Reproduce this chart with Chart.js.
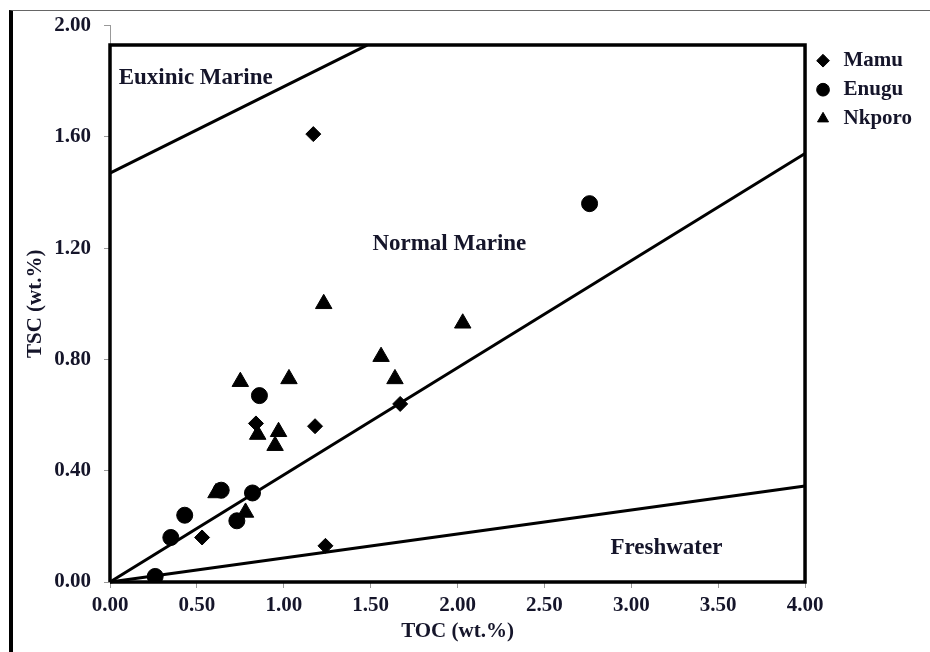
<!DOCTYPE html>
<html>
<head>
<meta charset="utf-8">
<script src="https://cdn.jsdelivr.net/npm/chart.js@4.4.1/dist/chart.umd.min.js"></script>
<style>
html, body { margin: 0; padding: 0; background: #fff; }
#wrap { position: relative; width: 930px; height: 652px; overflow: hidden; }
#wrap canvas { position: absolute; left: 0; top: 0; }
#frame { position: absolute; left: 9px; top: 10px; right: 0; bottom: 0; border-left: 4px solid #000; border-top: 1px solid #666; pointer-events: none; }
</style>
</head>
<body>
<div id="wrap">
  <canvas id="myChart" width="930" height="652"></canvas>
  <div id="frame"></div>
</div>
<script>
// sample points (TOC, TSC in wt.%)
const mamuTOC = [1.17, 0.84, 1.18, 0.53, 1.24, 1.67];
const mamuTSC = [1.61, 0.57, 0.56, 0.16, 0.13, 0.64];
const enuguTOC = [0.86, 0.64, 0.82, 0.43, 0.73, 0.35, 0.26, 2.76];
const enuguTSC = [0.67, 0.33, 0.32, 0.24, 0.22, 0.16, 0.02, 1.36];
const nkporoTOC = [0.75, 1.03, 0.85, 0.97, 0.95, 0.61, 0.78, 1.23, 2.03, 1.56, 1.64];
const nkporoTSC = [0.72, 0.73, 0.53, 0.54, 0.49, 0.32, 0.25, 1.00, 0.93, 0.81, 0.73];

// boundary lines
const euxinicTOC = [0, 1.48];
const euxinicTSC = [1.47, 1.93];
const normalTOC = [0, 4];
const normalTSC = [0, 1.54];
const freshTOC = [0, 4];
const freshTSC = [0, 0.345];

// plot frame
const boxTOC = [0, 0, 4, 4, 0];
const boxTSC = [0, 1.93, 1.93, 0, 0];

// field names
const regionNames = ['Euxinic Marine', 'Normal Marine', 'Freshwater'];
const regionTOC = [0.05, 1.51, 2.88];
const regionTSC = [1.81, 1.214, 0.122];

const textColor = '#15152a';

function pts(xs, ys) {
  return xs.map((v, i) => ({x: v, y: ys[i]}));
}

const regionLabels = {
  id: 'regionLabels',
  afterDatasetsDraw(chart) {
    const {ctx, scales: {x, y}} = chart;
    ctx.save();
    ctx.font = 'bold 23px "Liberation Serif"';
    ctx.fillStyle = textColor;
    ctx.textBaseline = 'middle';
    ctx.textAlign = 'left';
    regionNames.forEach((name, i) => {
      ctx.fillText(name, x.getPixelForValue(regionTOC[i]), y.getPixelForValue(regionTSC[i]));
    });
    ctx.restore();
  }
};

Chart.defaults.font.family = '"Liberation Serif", "Times New Roman", serif';
Chart.defaults.font.weight = 'bold';
Chart.defaults.color = textColor;

function lineSet(xs, ys, w) {
  return {
    data: pts(xs, ys),
    showLine: true,
    borderColor: '#000',
    borderWidth: w,
    pointRadius: 0,
    pointHoverRadius: 0,
    fill: false,
    tension: 0,
    clip: false
  };
}

const ctx = document.getElementById('myChart');
let myChart = new Chart(ctx, {
  type: 'scatter',
  data: {
    datasets: [
      {
        label: 'Mamu',
        data: pts(mamuTOC, mamuTSC),
        pointStyle: 'rectRot',
        pointRadius: 7.5,
        backgroundColor: '#000',
        borderColor: '#000',
        borderWidth: 1
      },
      {
        label: 'Enugu',
        data: pts(enuguTOC, enuguTSC),
        pointStyle: 'circle',
        pointRadius: 8,
        backgroundColor: '#000',
        borderColor: '#000',
        borderWidth: 1
      },
      {
        label: 'Nkporo',
        data: pts(nkporoTOC, nkporoTSC),
        pointStyle: 'triangle',
        pointRadius: 9.5,
        backgroundColor: '#000',
        borderColor: '#000',
        borderWidth: 1
      },
      lineSet(euxinicTOC, euxinicTSC, 3),
      lineSet(normalTOC, normalTSC, 3),
      lineSet(freshTOC, freshTSC, 3),
      lineSet(boxTOC, boxTSC, 3.5)
    ]
  },
  options: {
    responsive: false,
    animation: false,
    events: [],
    layout: {
      padding: {left: 2, top: 25, right: 8, bottom: 0}
    },
    plugins: {
      tooltip: {enabled: false},
      legend: {
        position: 'right',
        align: 'start',
        title: {display: true, text: ' ', font: {size: 1}, padding: {top: 16, bottom: 0}},
        labels: {
          filter: item => item.datasetIndex < 3,
          usePointStyle: true,
          boxWidth: 20,
          boxHeight: 9,
          padding: 8,
          color: textColor,
          font: {size: 21, weight: 'bold'}
        }
      }
    },
    scales: {
      x: {
        type: 'linear',
        min: 0,
        max: 4,
        afterFit: s => { s.height = 70; },
        grid: {drawOnChartArea: false, drawTicks: true, tickLength: 6, color: '#999'},
        border: {display: true, color: '#999', width: 1},
        ticks: {
          stepSize: 0.5,
          padding: 7,
          font: {size: 21, weight: 'bold', lineHeight: 1.0},
          callback: v => v.toFixed(2)
        },
        title: {
          display: true,
          text: 'TOC (wt.%)',
          font: {size: 21, weight: 'bold', lineHeight: 1.0},
          padding: {top: 0, bottom: 10}
        }
      },
      y: {
        type: 'linear',
        min: 0,
        max: 2,
        afterFit: s => { s.width = 108; },
        grid: {drawOnChartArea: false, drawTicks: true, tickLength: 6, color: '#999'},
        border: {display: true, color: '#999', width: 1},
        ticks: {
          stepSize: 0.4,
          padding: 13,
          font: {size: 21, weight: 'bold'},
          callback: v => v.toFixed(2)
        },
        title: {
          display: true,
          text: 'TSC (wt.%)',
          font: {size: 21, weight: 'bold'},
          padding: {top: 21, bottom: 0}
        }
      }
    }
  },
  plugins: [regionLabels]
});
</script>
</body>
</html>
